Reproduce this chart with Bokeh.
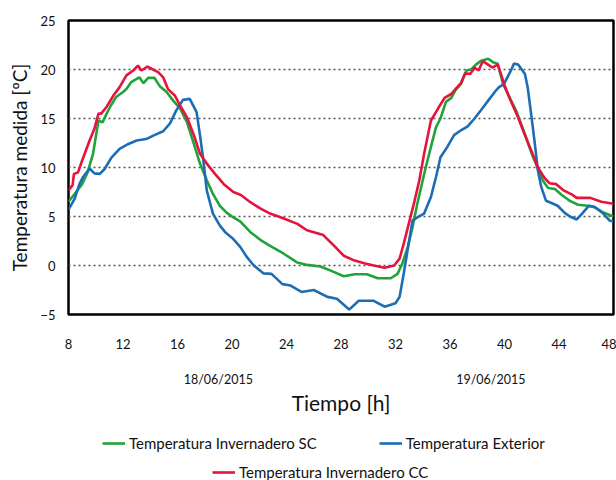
from bokeh.plotting import figure
from bokeh.layouts import column
from bokeh.models import (Range1d, FixedTicker, LinearAxis, Legend, LegendItem)
from bokeh.embed import file_html
from bokeh.resources import INLINE

# ---- data ----
hours_sc = [8.0, 8.45, 9.0, 9.4, 9.8, 10.2, 10.5, 10.8, 11.1, 11.5, 12.0, 12.25, 12.6, 13.2, 13.5,
            13.85, 14.3, 14.7, 15.2, 15.7, 16.2, 16.7, 17.2, 17.65, 18.15, 18.6, 19.1, 19.6, 20.1,
            20.6, 21.35, 22.1, 22.8, 23.8, 24.8, 25.5, 26.5, 27.2, 28.2, 29.0, 29.9, 30.7, 31.65,
            32.15, 32.5, 32.9, 33.25, 33.6, 34.0, 34.2, 34.6, 34.97, 35.3, 35.7, 36.1, 36.4, 36.8,
            37.2, 37.55, 37.9, 38.3, 38.8, 39.15, 39.5, 39.9, 40.25, 40.9, 41.5, 42.0, 42.45, 42.8,
            43.2, 43.7, 44.2, 44.8, 45.4, 46.1, 46.6, 47.25, 48.0]
temp_sc = [6.5, 7.3, 8.3, 9.5, 11.4, 14.8, 14.6, 15.5, 16.3, 17.2, 17.7, 18.0, 18.7, 19.2, 18.6,
           19.15, 19.15, 18.3, 17.7, 16.8, 16.0, 14.6, 12.4, 10.4, 8.7, 7.3, 6.1, 5.4, 4.9,
           4.5, 3.4, 2.6, 2.0, 1.2, 0.3, 0.06, -0.1, -0.5, -1.1, -0.9, -0.9, -1.3, -1.3,
           -0.85, 0.2, 1.9, 3.9, 6.3, 8.7, 9.9, 12.1, 14.1, 15.0, 16.7, 17.1, 17.9, 18.5,
           19.9, 20.0, 20.5, 20.9, 21.1, 20.75, 20.6, 18.5, 17.5, 15.65, 13.4, 11.4, 9.9, 8.7,
           7.9, 7.8, 7.2, 6.6, 6.2, 6.1, 5.95, 5.4, 5.0]

hours_ext = [8.0, 8.45, 8.8, 9.05, 9.55, 9.9, 10.3, 10.65, 11.15, 11.75, 12.4, 13.0, 13.7, 14.3,
             14.95, 15.45, 15.9, 16.4, 16.9, 17.4, 17.65, 17.9, 18.15, 18.6, 19.1, 19.5, 20.1,
             20.6, 21.1, 21.6, 22.3, 22.9, 23.7, 24.3, 25.1, 26.0, 27.0, 27.7, 28.6, 29.3, 30.4,
             31.2, 32.0, 32.3, 32.6, 33.0, 33.25, 33.6, 34.1, 34.6, 34.97, 35.3, 35.8, 36.3,
             36.8, 37.3, 37.8, 38.3, 38.9, 39.4, 39.6, 39.95, 40.4, 40.7, 41.0, 41.5, 41.7,
             41.95, 42.2, 42.45, 42.7, 43.05, 43.4, 43.9, 44.4, 44.8, 45.3, 45.7, 46.2, 46.6,
             47.25, 47.7, 48.0]
temp_ext = [5.7, 6.8, 8.3, 9.0, 9.9, 9.4, 9.35, 9.85, 11.0, 11.9, 12.4, 12.75, 12.9, 13.3,
            13.7, 14.5, 15.8, 16.9, 17.0, 15.65, 13.3, 10.7, 7.65, 5.3, 4.1, 3.4, 2.7,
            1.9, 0.85, 0.0, -0.8, -0.85, -1.9, -2.05, -2.7, -2.5, -3.2, -3.4, -4.5, -3.6, -3.6,
            -4.2, -3.85, -3.2, -0.85, 2.5, 4.6, 4.9, 5.3, 7.0, 9.0, 11.05, 12.1, 13.3,
            13.8, 14.2, 15.0, 15.9, 17.0, 17.9, 18.2, 18.5, 19.7, 20.6, 20.5, 19.55, 18.2,
            15.5, 12.75, 9.7, 8.0, 6.6, 6.4, 6.1, 5.4, 5.0, 4.7, 5.3, 6.1, 6.0,
            5.3, 4.6, 4.5]

hours_cc = [8.0, 8.3, 8.4, 8.7, 9.05, 9.55, 9.9, 10.2, 10.4, 10.8, 11.3, 11.75, 12.25, 12.75,
            13.1, 13.35, 13.8, 14.2, 14.6, 14.95, 15.3, 15.8, 16.2, 16.7, 17.2, 17.65, 18.15,
            18.75, 19.4, 20.1, 20.65, 21.35, 22.1, 22.8, 23.8, 24.8, 25.5, 26.7, 27.5, 28.2,
            29.0, 29.7, 30.4, 31.2, 31.9, 32.3, 32.6, 33.0, 33.4, 33.75, 34.1, 34.6, 34.97,
            35.2, 35.6, 36.1, 36.4, 36.8, 37.1, 37.5, 37.8, 38.1, 38.4, 38.8, 39.1, 39.5, 39.7,
            40.0, 40.4, 41.0, 41.5, 42.0, 42.45, 42.95, 43.3, 43.8, 44.3, 45.0, 45.3, 46.3,
            47.1, 48.0]
temp_cc = [7.65, 8.2, 9.35, 9.5, 10.9, 12.75, 13.95, 15.5, 15.5, 16.2, 17.35, 18.2, 19.4, 19.9,
           20.4, 19.9, 20.3, 20.0, 19.7, 19.2, 18.0, 17.35, 16.3, 15.1, 13.3, 11.4, 10.4,
           9.35, 8.3, 7.5, 7.2, 6.46, 5.8, 5.3, 4.8, 4.25, 3.6, 3.1, 2.0, 1.0,
           0.5, 0.24, 0.0, -0.24, 0.0, 0.7, 2.2, 4.4, 6.6, 8.7, 11.4, 14.8, 15.65,
           16.2, 17.1, 17.5, 18.0, 18.6, 19.6, 19.55, 20.2, 19.9, 20.85, 20.5, 20.2, 20.5, 19.7,
           18.4, 17.0, 15.1, 13.3, 11.6, 10.0, 8.9, 8.4, 8.3, 7.7, 7.2, 6.9, 6.9,
           6.5, 6.3]

x_ticks = [8, 12, 16, 20, 24, 28, 32, 36, 40, 44, 48]
y_ticks = [-5, 0, 5, 10, 15, 20, 25]
date_ticks = [19, 39]
date_labels = ["18/06/2015", "19/06/2015"]
series_names = ["Temperatura Invernadero SC", "Temperatura Exterior", "Temperatura Invernadero CC"]

FONT = "Lato"
GREEN = "#1fa33a"
BLUE = "#1c6db4"
RED = "#e5133d"
TXT = "#111111"

W = 616
H_MAIN = 418
H_LEG = 62

p = figure(width=W, height=H_MAIN, output_backend="svg", toolbar_location=None,
           x_range=Range1d(8, 48), y_range=Range1d(-5, 25),
           min_border_left=68, min_border_top=20, min_border_right=3,
           min_border_bottom=104)
p.background_fill_color = "white"
p.border_fill_color = "white"
p.outline_line_color = "black"
p.outline_line_width = 2.5

r_sc = p.line(hours_sc, temp_sc, line_color=GREEN, line_width=2.6)
r_ext = p.line(hours_ext, temp_ext, line_color=BLUE, line_width=2.6)
r_cc = p.line(hours_cc, temp_cc, line_color=RED, line_width=2.6)

for ax in (p.xaxis[0], p.yaxis[0]):
    ax.axis_line_color = None
    ax.major_tick_line_color = None
    ax.minor_tick_line_color = None
    ax.major_label_text_font = FONT
    ax.major_label_text_font_size = "13px"
    ax.major_label_text_color = TXT

p.xaxis[0].ticker = FixedTicker(ticks=x_ticks)
p.xaxis[0].major_label_standoff = 18
p.yaxis[0].ticker = FixedTicker(ticks=y_ticks)
p.yaxis[0].major_label_standoff = 7
p.yaxis[0].axis_label = "Temperatura medida [ºC]"
p.yaxis[0].axis_label_text_font = FONT
p.yaxis[0].axis_label_text_font_size = "19px"
p.yaxis[0].axis_label_text_font_style = "normal"
p.yaxis[0].axis_label_text_color = TXT
p.yaxis[0].axis_label_standoff = 6

p.xgrid.visible = False
p.ygrid.grid_line_color = "#555555"
p.ygrid.grid_line_width = 1.5
p.ygrid.grid_line_dash = "2 3"

date_axis = LinearAxis(ticker=FixedTicker(ticks=date_ticks),
                       major_label_overrides={t: lab for t, lab in zip(date_ticks, date_labels)},
                       axis_label="Tiempo [h]")
date_axis.axis_line_color = None
date_axis.major_tick_line_color = None
date_axis.minor_tick_line_color = None
date_axis.major_label_text_font = FONT
date_axis.major_label_text_font_size = "12.5px"
date_axis.major_label_text_color = TXT
date_axis.major_label_standoff = 14
date_axis.axis_label_text_font = FONT
date_axis.axis_label_text_font_size = "21px"
date_axis.axis_label_text_font_style = "normal"
date_axis.axis_label_text_color = TXT
date_axis.axis_label_standoff = 0
p.add_layout(date_axis, "below")

# ---- legend strip (series drawn out of view, used only for the legend keys) ----
q = figure(width=W, height=H_LEG, output_backend="svg", toolbar_location=None,
           x_range=Range1d(8, 48), y_range=Range1d(1000, 1001),
           x_axis_type=None, y_axis_type=None, min_border=0)
q.outline_line_color = None
q.background_fill_color = "white"
q.border_fill_color = "white"
q.xgrid.visible = False
q.ygrid.visible = False
k_sc = q.line(hours_sc, temp_sc, line_color=GREEN, line_width=2.6)
k_ext = q.line(hours_ext, temp_ext, line_color=BLUE, line_width=2.6)
k_cc = q.line(hours_cc, temp_cc, line_color=RED, line_width=2.6)

def style_legend(lg):
    lg.orientation = "horizontal"
    lg.border_line_color = None
    lg.background_fill_alpha = 0
    lg.label_text_font = FONT
    lg.label_text_font_size = "15px"
    lg.label_text_color = TXT
    lg.glyph_width = 23
    lg.glyph_height = 14
    lg.label_height = 14
    lg.label_standoff = 4
    lg.spacing = 62
    lg.padding = 0
    lg.margin = 0

leg1 = Legend(items=[LegendItem(label=series_names[0], renderers=[k_sc]),
                     LegendItem(label=series_names[1], renderers=[k_ext])],
              location=(34, 28))
style_legend(leg1)
leg2 = Legend(items=[LegendItem(label=series_names[2], renderers=[k_cc])],
              location=(144, -1))
style_legend(leg2)
q.add_layout(leg1, "center")
q.add_layout(leg2, "center")

layout = column(p, q, spacing=0)
open("out.html", "w").write(file_html(layout, INLINE))
